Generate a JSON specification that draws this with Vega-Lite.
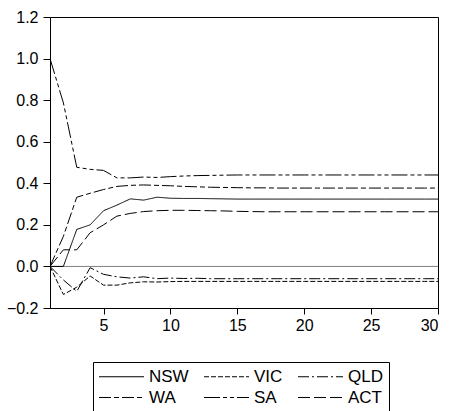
{
  "$schema": "https://vega.github.io/schema/vega-lite/v6.json",
  "autosize": {"type": "none"},
  "width": 388,
  "height": 291,
  "padding": {"left": 50, "top": 17, "right": 11, "bottom": 103},
  "background": "white",
  "config": {
    "view": {"stroke": "black", "strokeWidth": 1},
    "font": "Liberation Sans",
    "axis": {"grid": false, "domainColor": "black", "tickColor": "black", "labelColor": "black", "labelFont": "Liberation Sans", "labelFontSize": 16, "title": null}
  },
  "datasets": {
    "irf": [
      {"t":1,"s":"NSW","v":0},{"t":2,"s":"NSW","v":0},{"t":3,"s":"NSW","v":0.178},{"t":4,"s":"NSW","v":0.2},{"t":5,"s":"NSW","v":0.268},{"t":6,"s":"NSW","v":0.295},{"t":7,"s":"NSW","v":0.325},{"t":8,"s":"NSW","v":0.319},{"t":9,"s":"NSW","v":0.333},{"t":10,"s":"NSW","v":0.328},{"t":11,"s":"NSW","v":0.327},{"t":12,"s":"NSW","v":0.327},{"t":13,"s":"NSW","v":0.326},{"t":14,"s":"NSW","v":0.325},{"t":15,"s":"NSW","v":0.324},{"t":16,"s":"NSW","v":0.324},{"t":17,"s":"NSW","v":0.324},{"t":18,"s":"NSW","v":0.324},{"t":19,"s":"NSW","v":0.324},{"t":20,"s":"NSW","v":0.324},{"t":21,"s":"NSW","v":0.324},{"t":22,"s":"NSW","v":0.324},{"t":23,"s":"NSW","v":0.324},{"t":24,"s":"NSW","v":0.324},{"t":25,"s":"NSW","v":0.324},{"t":26,"s":"NSW","v":0.324},{"t":27,"s":"NSW","v":0.324},{"t":28,"s":"NSW","v":0.324},{"t":29,"s":"NSW","v":0.324},{"t":30,"s":"NSW","v":0.324},
      {"t":1,"s":"VIC","v":0},{"t":2,"s":"VIC","v":-0.135},{"t":3,"s":"VIC","v":-0.1},{"t":4,"s":"VIC","v":-0.046},{"t":5,"s":"VIC","v":-0.09},{"t":6,"s":"VIC","v":-0.09},{"t":7,"s":"VIC","v":-0.079},{"t":8,"s":"VIC","v":-0.074},{"t":9,"s":"VIC","v":-0.075},{"t":10,"s":"VIC","v":-0.073},{"t":11,"s":"VIC","v":-0.072},{"t":12,"s":"VIC","v":-0.072},{"t":13,"s":"VIC","v":-0.072},{"t":14,"s":"VIC","v":-0.072},{"t":15,"s":"VIC","v":-0.072},{"t":16,"s":"VIC","v":-0.072},{"t":17,"s":"VIC","v":-0.072},{"t":18,"s":"VIC","v":-0.072},{"t":19,"s":"VIC","v":-0.072},{"t":20,"s":"VIC","v":-0.072},{"t":21,"s":"VIC","v":-0.072},{"t":22,"s":"VIC","v":-0.072},{"t":23,"s":"VIC","v":-0.072},{"t":24,"s":"VIC","v":-0.072},{"t":25,"s":"VIC","v":-0.072},{"t":26,"s":"VIC","v":-0.072},{"t":27,"s":"VIC","v":-0.072},{"t":28,"s":"VIC","v":-0.072},{"t":29,"s":"VIC","v":-0.072},{"t":30,"s":"VIC","v":-0.072},
      {"t":1,"s":"QLD","v":0},{"t":2,"s":"QLD","v":-0.065},{"t":3,"s":"QLD","v":-0.12},{"t":4,"s":"QLD","v":-0.006},{"t":5,"s":"QLD","v":-0.038},{"t":6,"s":"QLD","v":-0.05},{"t":7,"s":"QLD","v":-0.056},{"t":8,"s":"QLD","v":-0.05},{"t":9,"s":"QLD","v":-0.059},{"t":10,"s":"QLD","v":-0.056},{"t":11,"s":"QLD","v":-0.058},{"t":12,"s":"QLD","v":-0.057},{"t":13,"s":"QLD","v":-0.059},{"t":14,"s":"QLD","v":-0.059},{"t":15,"s":"QLD","v":-0.059},{"t":16,"s":"QLD","v":-0.059},{"t":17,"s":"QLD","v":-0.059},{"t":18,"s":"QLD","v":-0.059},{"t":19,"s":"QLD","v":-0.059},{"t":20,"s":"QLD","v":-0.059},{"t":21,"s":"QLD","v":-0.059},{"t":22,"s":"QLD","v":-0.059},{"t":23,"s":"QLD","v":-0.059},{"t":24,"s":"QLD","v":-0.059},{"t":25,"s":"QLD","v":-0.059},{"t":26,"s":"QLD","v":-0.059},{"t":27,"s":"QLD","v":-0.059},{"t":28,"s":"QLD","v":-0.059},{"t":29,"s":"QLD","v":-0.059},{"t":30,"s":"QLD","v":-0.059},
      {"t":1,"s":"WA","v":0},{"t":2,"s":"WA","v":0.145},{"t":3,"s":"WA","v":0.333},{"t":4,"s":"WA","v":0.352},{"t":5,"s":"WA","v":0.37},{"t":6,"s":"WA","v":0.385},{"t":7,"s":"WA","v":0.39},{"t":8,"s":"WA","v":0.392},{"t":9,"s":"WA","v":0.39},{"t":10,"s":"WA","v":0.388},{"t":11,"s":"WA","v":0.385},{"t":12,"s":"WA","v":0.383},{"t":13,"s":"WA","v":0.381},{"t":14,"s":"WA","v":0.38},{"t":15,"s":"WA","v":0.379},{"t":16,"s":"WA","v":0.378},{"t":17,"s":"WA","v":0.378},{"t":18,"s":"WA","v":0.377},{"t":19,"s":"WA","v":0.377},{"t":20,"s":"WA","v":0.377},{"t":21,"s":"WA","v":0.377},{"t":22,"s":"WA","v":0.377},{"t":23,"s":"WA","v":0.377},{"t":24,"s":"WA","v":0.377},{"t":25,"s":"WA","v":0.377},{"t":26,"s":"WA","v":0.377},{"t":27,"s":"WA","v":0.377},{"t":28,"s":"WA","v":0.377},{"t":29,"s":"WA","v":0.377},{"t":30,"s":"WA","v":0.377},
      {"t":1,"s":"SA","v":1.0},{"t":2,"s":"SA","v":0.787},{"t":3,"s":"SA","v":0.477},{"t":4,"s":"SA","v":0.467},{"t":5,"s":"SA","v":0.462},{"t":6,"s":"SA","v":0.426},{"t":7,"s":"SA","v":0.426},{"t":8,"s":"SA","v":0.43},{"t":9,"s":"SA","v":0.428},{"t":10,"s":"SA","v":0.432},{"t":11,"s":"SA","v":0.435},{"t":12,"s":"SA","v":0.437},{"t":13,"s":"SA","v":0.438},{"t":14,"s":"SA","v":0.439},{"t":15,"s":"SA","v":0.44},{"t":16,"s":"SA","v":0.44},{"t":17,"s":"SA","v":0.44},{"t":18,"s":"SA","v":0.44},{"t":19,"s":"SA","v":0.44},{"t":20,"s":"SA","v":0.44},{"t":21,"s":"SA","v":0.44},{"t":22,"s":"SA","v":0.44},{"t":23,"s":"SA","v":0.44},{"t":24,"s":"SA","v":0.44},{"t":25,"s":"SA","v":0.44},{"t":26,"s":"SA","v":0.44},{"t":27,"s":"SA","v":0.44},{"t":28,"s":"SA","v":0.44},{"t":29,"s":"SA","v":0.44},{"t":30,"s":"SA","v":0.44},
      {"t":1,"s":"ACT","v":0},{"t":2,"s":"ACT","v":0.08},{"t":3,"s":"ACT","v":0.08},{"t":4,"s":"ACT","v":0.162},{"t":5,"s":"ACT","v":0.2},{"t":6,"s":"ACT","v":0.242},{"t":7,"s":"ACT","v":0.255},{"t":8,"s":"ACT","v":0.264},{"t":9,"s":"ACT","v":0.268},{"t":10,"s":"ACT","v":0.27},{"t":11,"s":"ACT","v":0.27},{"t":12,"s":"ACT","v":0.269},{"t":13,"s":"ACT","v":0.268},{"t":14,"s":"ACT","v":0.267},{"t":15,"s":"ACT","v":0.265},{"t":16,"s":"ACT","v":0.264},{"t":17,"s":"ACT","v":0.263},{"t":18,"s":"ACT","v":0.263},{"t":19,"s":"ACT","v":0.263},{"t":20,"s":"ACT","v":0.263},{"t":21,"s":"ACT","v":0.263},{"t":22,"s":"ACT","v":0.263},{"t":23,"s":"ACT","v":0.263},{"t":24,"s":"ACT","v":0.263},{"t":25,"s":"ACT","v":0.263},{"t":26,"s":"ACT","v":0.263},{"t":27,"s":"ACT","v":0.263},{"t":28,"s":"ACT","v":0.263},{"t":29,"s":"ACT","v":0.263},{"t":30,"s":"ACT","v":0.263}
    ],
    "zero": [{"z": 0}]
  },
  "layer": [
    {
      "data": {"name": "zero"},
      "mark": {"type": "rule", "color": "#808080", "strokeWidth": 1},
      "encoding": {"y": {"field": "z", "type": "quantitative"}}
    },
    {
      "data": {"name": "irf"},
      "mark": {"type": "line", "color": "black", "strokeWidth": 1, "clip": true},
      "encoding": {
        "x": {"field": "t", "type": "quantitative",
              "scale": {"domain": [1, 30], "nice": false, "zero": false},
              "axis": {"values": [5, 10, 15, 20, 25, 30], "tickSize": 6, "labelPadding": 3}},
        "y": {"field": "v", "type": "quantitative",
              "scale": {"domain": [-0.2, 1.2], "nice": false, "zero": false},
              "axis": {"values": [-0.2, 0, 0.2, 0.4, 0.6, 0.8, 1.0, 1.2], "format": ".1f", "tickSize": 7, "labelPadding": 5}},
        "detail": {"field": "s"},
        "strokeDash": {"field": "s", "type": "nominal",
          "scale": {"domain": ["NSW", "VIC", "QLD", "WA", "SA", "ACT"],
                    "range": [[1, 0], [5, 2], [11, 3, 2, 3], [12, 3, 5, 3], [16, 3, 4, 3, 4, 3], [12, 4]]},
          "legend": {"orient": "none", "legendX": 43, "legendY": 345, "direction": "horizontal", "columns": 3,
                     "title": null, "strokeColor": "black", "padding": 6,
                     "symbolType": "M-4.5,0H4.5", "symbolSize": 100, "symbolOffset": 14,
                     "symbolStrokeColor": "black", "symbolStrokeWidth": 1,
                     "labelFont": "Liberation Sans", "labelFontSize": 17, "labelColor": "black", "labelOffset": 19,
                     "rowPadding": 3, "columnPadding": 13}}
      }
    }
  ]
}
